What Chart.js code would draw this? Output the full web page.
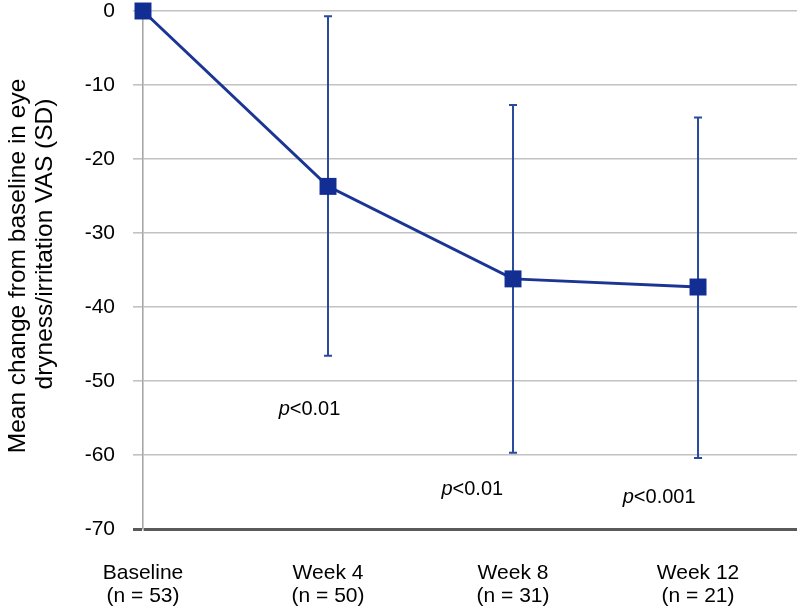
<!DOCTYPE html>
<html><head><meta charset="utf-8">
<script src="https://cdn.jsdelivr.net/npm/chart.js@4"></script>
<style>html,body{margin:0;padding:0;background:#fff;}#wrap{width:803px;height:612px;}</style>
</head><body><div id="wrap"><canvas id="c" width="803" height="612"></canvas></div>
<script>
const categories = ['Baseline', 'Week 4', 'Week 8', 'Week 12'];
const sampleSizes = ['(n = 53)', '(n = 50)', '(n = 31)', '(n = 21)'];
const meanChange = [0, -23.7, -36.2, -37.3];
const sdUpper = [null, -0.7, -12.7, -14.4];
const sdLower = [null, -46.6, -59.7, -60.4];
const yTicks = [0, -10, -20, -30, -40, -50, -60, -70];
const yTitle = ['Mean change from baseline in eye', 'dryness/irritation VAS (SD)'];
const pValues = ['<0.01', '<0.01', '<0.001'];
const pAt = [0.9, 1.78, 2.79];
const pLevel = [-53.9, -64.6, -65.8];

const FONT = '"Liberation Sans", Arial, Helvetica, sans-serif';

const errorBars = {
  id: 'errorBars',
  beforeDatasetsDraw(chart) {
    const {ctx, scales: {x, y}} = chart;
    ctx.save();
    ctx.strokeStyle = '#2a4a9c';
    ctx.lineWidth = 2;
    for (let i = 0; i < meanChange.length; i++) {
      if (sdUpper[i] == null) continue;
      const px = x.getPixelForValue(i);
      const y1 = y.getPixelForValue(sdUpper[i]);
      const y2 = y.getPixelForValue(sdLower[i]);
      ctx.beginPath();
      ctx.moveTo(px, y1); ctx.lineTo(px, y2);
      ctx.moveTo(px - 4, y1); ctx.lineTo(px + 4, y1);
      ctx.moveTo(px - 4, y2); ctx.lineTo(px + 4, y2);
      ctx.stroke();
    }
    ctx.restore();
  }
};

const pText = {
  id: 'pText',
  afterDatasetsDraw(chart) {
    const {ctx, scales: {x, y}} = chart;
    ctx.save();
    ctx.fillStyle = '#000';
    ctx.textBaseline = 'middle';
    ctx.textAlign = 'left';
    const fi = 'italic 20px ' + FONT, fn = '20px ' + FONT;
    for (let i = 0; i < pValues.length; i++) {
      ctx.font = fi; const w1 = ctx.measureText('p').width;
      ctx.font = fn; const w2 = ctx.measureText(pValues[i]).width;
      const cx = x.getPixelForValue(pAt[i]);
      const cy = y.getPixelForValue(pLevel[i]);
      const sx = cx - (w1 + w2) / 2;
      ctx.font = fi; ctx.fillText('p', sx, cy);
      ctx.font = fn; ctx.fillText(pValues[i], sx + w1, cy);
    }
    ctx.restore();
  }
};

const axisTitle = {
  id: 'axisTitle',
  afterDraw(chart) {
    const {ctx, chartArea} = chart;
    const mid = (chartArea.top + chartArea.bottom) / 2;
    const centers = [[18, mid - 4], [45, mid - 26]];
    ctx.save();
    ctx.fillStyle = '#000';
    ctx.font = '24.5px ' + FONT;
    ctx.textAlign = 'center';
    ctx.textBaseline = 'middle';
    yTitle.forEach((t, i) => {
      ctx.save();
      ctx.translate(centers[i][0], centers[i][1]);
      ctx.rotate(-Math.PI / 2);
      ctx.fillText(t, 0, 0);
      ctx.restore();
    });
    ctx.restore();
  }
};

new Chart(document.getElementById('c'), {
  type: 'line',
  data: {
    datasets: [{
      data: meanChange.map((v, i) => ({x: i, y: v})),
      borderColor: '#1a3594',
      borderWidth: 3,
      backgroundColor: '#132e93',
      pointBackgroundColor: '#132e93',
      pointBorderColor: '#132e93',
      pointStyle: 'rect',
      pointRadius: 12,
      pointBorderWidth: 0,
      tension: 0,
      clip: false
    }]
  },
  options: {
    responsive: false,
    animation: false,
    devicePixelRatio: 1,
    layout: {autoPadding: false, padding: {top: 11, right: 6, left: 0, bottom: 0}},
    plugins: {legend: {display: false}, tooltip: {enabled: false}, title: {display: false}},
    scales: {
      x: {
        type: 'linear',
        min: 0,
        max: 3.535,
        afterBuildTicks: (s) => { s.ticks = categories.map((c, i) => ({value: i})); },
        afterFit: (s) => { s.height = 83; s.paddingLeft = 0; s.paddingRight = 0; },
        ticks: {
          autoSkip: false,
          maxRotation: 0,
          padding: 33,
          color: '#000',
          font: {family: FONT, size: 21, lineHeight: '23px'},
          callback: (v) => [categories[v], sampleSizes[v]]
        },
        grid: {display: false, drawTicks: false},
        border: {display: false}
      },
      y: {
        type: 'linear',
        min: -70,
        max: 0,
        afterBuildTicks: (s) => { s.ticks = yTicks.map(v => ({value: v})); },
        afterFit: (s) => { s.width = 143; s.paddingTop = 0; s.paddingBottom = 0; },
        ticks: {
          padding: 18,
          color: '#000',
          font: {family: FONT, size: 21},
          callback: (v) => String(v)
        },
        grid: {
          color: (c) => (c.tick && c.tick.value === -70) ? '#5a5a5a' : '#c2c2c2',
          lineWidth: (c) => (c.tick && c.tick.value === -70) ? 3 : 1.6,
          tickLength: 10
        },
        border: {display: true, color: '#a8a8a8', width: 1.6}
      }
    }
  },
  plugins: [errorBars, pText, axisTitle]
});
</script>
</body></html>
